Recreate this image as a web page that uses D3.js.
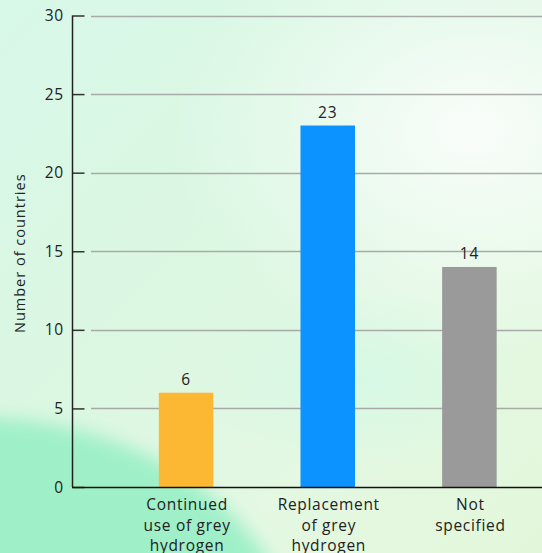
<!DOCTYPE html>
<html>
<head>
<meta charset="utf-8">
<script src="https://cdn.jsdelivr.net/npm/d3@7"></script>
<style>
  html, body { margin: 0; padding: 0; width: 542px; height: 553px; overflow: hidden; }
  svg { display: block; }
  text { font-family: "Open Sans", "Lato", sans-serif; fill: #222; }
</style>
</head>
<body>
<svg id="chart" width="542" height="553"></svg>
<script>
const categories = ["Continued use of grey hydrogen", "Replacement of grey hydrogen", "Not specified"];
const categoryLines = [["Continued", "use of grey", "hydrogen"], ["Replacement", "of grey", "hydrogen"], ["Not", "specified"]];
const values = [6, 23, 14];
const barColors = ["#FDB833", "#0D93FF", "#9A9A9A"];
const yTicks = [0, 5, 10, 15, 20, 25, 30];
const yLabel = "Number of countries";

const W = 542, H = 553;
const svg = d3.select("#chart");
const defs = svg.append("defs");

// background
const lg = defs.append("linearGradient").attr("id", "bg").attr("x1", "0").attr("y1", "0").attr("x2", "1").attr("y2", "1");
lg.append("stop").attr("offset", "0").attr("stop-color", "#d8f8e8");
lg.append("stop").attr("offset", "0.45").attr("stop-color", "#dcf7e2");
lg.append("stop").attr("offset", "0.7").attr("stop-color", "#e4f8e2");
lg.append("stop").attr("offset", "1").attr("stop-color", "#e2f7da");
svg.append("rect").attr("width", W).attr("height", H).attr("fill", "url(#bg)");

const rg = defs.append("radialGradient").attr("id", "glow").attr("cx", "0.5").attr("cy", "0.5").attr("r", "0.5");
rg.append("stop").attr("offset", "0").attr("stop-color", "#fbfdfb").attr("stop-opacity", 0.95);
rg.append("stop").attr("offset", "1").attr("stop-color", "#f4fdf9").attr("stop-opacity", 0);
svg.append("ellipse").attr("cx", 470).attr("cy", 130).attr("rx", 300).attr("ry", 230).attr("fill", "url(#glow)");

const rg2 = defs.append("radialGradient").attr("id", "glow2").attr("cx", "0.5").attr("cy", "0.5").attr("r", "0.5");
rg2.append("stop").attr("offset", "0").attr("stop-color", "#d2f9e6").attr("stop-opacity", 0.8);
rg2.append("stop").attr("offset", "1").attr("stop-color", "#d2f9e6").attr("stop-opacity", 0);
svg.append("ellipse").attr("cx", 360).attr("cy", 380).attr("rx", 160).attr("ry", 90).attr("fill", "url(#glow2)");

const blur = defs.append("filter").attr("id", "blur").attr("x", "-50%").attr("y", "-50%").attr("width", "200%").attr("height", "200%");
blur.append("feGaussianBlur").attr("stdDeviation", 9);
svg.append("ellipse").attr("cx", -30).attr("cy", 655).attr("rx", 325).attr("ry", 238)
  .attr("fill", "#9ff0c8").attr("filter", "url(#blur)");

// scales
const y = d3.scaleLinear().domain([0, 30]).range([487, 15.5]);
const x = d3.scaleBand().domain(categories).range([72, 583.5]).paddingInner(0.615).paddingOuter(0.613);

// gridlines
svg.append("g").selectAll("line").data(yTicks.filter(d => d > 0)).join("line")
  .attr("x1", 91).attr("x2", W)
  .attr("y1", d => Math.round(y(d)) + 0.5).attr("y2", d => Math.round(y(d)) + 0.5)
  .attr("stroke", "#a8aaa8").attr("stroke-width", 1.5);

// y axis
const yAxis = svg.append("g").attr("transform", "translate(72.5,0)")
  .call(d3.axisRight(y).tickValues(yTicks).tickSize(12).tickFormat(""));
yAxis.select(".domain").remove();
yAxis.selectAll(".tick line").attr("stroke", "#333").attr("stroke-width", 1.5);
svg.append("line").attr("x1", 72.5).attr("x2", 72.5).attr("y1", y(30)).attr("y2", y(0))
  .attr("stroke", "#222").attr("stroke-width", 1.5);

svg.append("g").selectAll("text").data(yTicks).join("text")
  .attr("x", 64).attr("y", d => y(d)).attr("dy", "0.36em")
  .attr("text-anchor", "end").attr("font-size", 15.5).attr("letter-spacing", 0.8).text(d => d);

svg.append("text")
  .attr("transform", `translate(25,${(y(0) + y(30)) / 2 + 2}) rotate(-90)`)
  .attr("text-anchor", "middle").attr("font-size", 14.5).attr("letter-spacing", 1).text(yLabel);

// bars
svg.append("g").selectAll("rect").data(values).join("rect")
  .attr("x", (d, i) => x(categories[i]))
  .attr("width", x.bandwidth())
  .attr("y", d => y(d))
  .attr("height", d => y(0) - y(d))
  .attr("fill", (d, i) => barColors[i]);

// value labels
svg.append("g").selectAll("text").data(values).join("text")
  .attr("x", (d, i) => x(categories[i]) + x.bandwidth() / 2)
  .attr("y", d => y(d) - 8)
  .attr("text-anchor", "middle").attr("font-size", 15.5).attr("letter-spacing", 0.8).text(d => d);

// x axis baseline
svg.append("line").attr("x1", 72).attr("x2", W).attr("y1", y(0) + 0.5).attr("y2", y(0) + 0.5)
  .attr("stroke", "#111").attr("stroke-width", 1.5);

// x labels
const xl = svg.append("g").selectAll("text").data(categories).join("text")
  .attr("text-anchor", "middle").attr("font-size", 15.5).attr("letter-spacing", 0.7);
xl.each(function(c, i) {
  const t = d3.select(this);
  categoryLines[i].forEach((ln, j) => {
    t.append("tspan").attr("x", x(c) + x.bandwidth() / 2 + 1).attr("y", 510 + j * 20.5).text(ln);
  });
});
</script>
</body>
</html>
